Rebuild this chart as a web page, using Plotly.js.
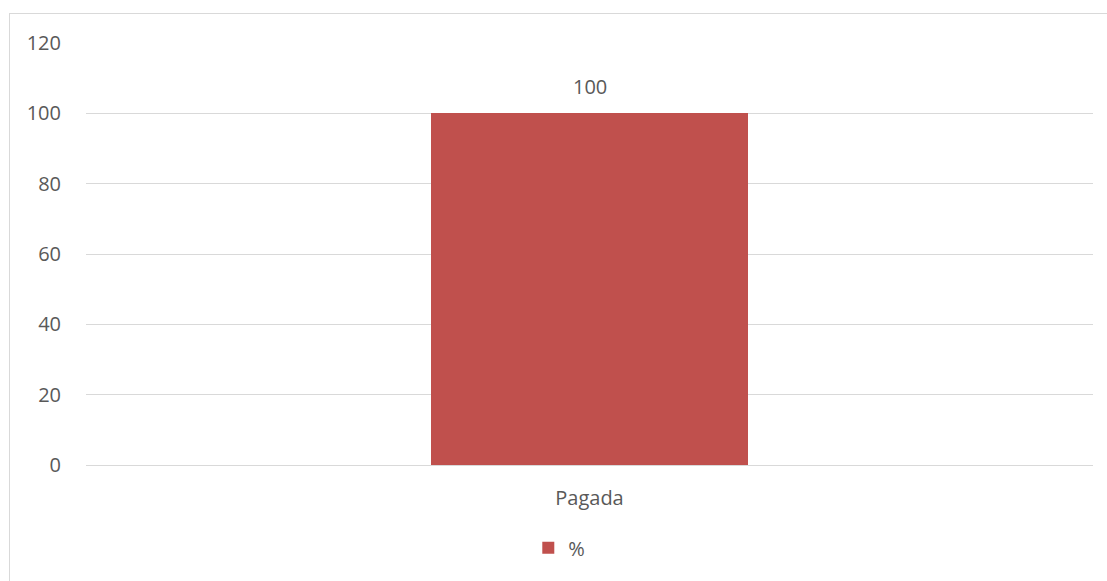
<!DOCTYPE html>
<html>
<head>
<meta charset="utf-8">
<script src="https://cdn.plot.ly/plotly-3.0.1.min.js"></script>
<style>
  html, body { margin: 0; padding: 0; background: #ffffff; overflow: hidden; }
  #chart { position: absolute; left: 0; top: 0; width: 1107px; height: 581px; }
  #frame { position: absolute; left: 9px; top: 13px; width: 1120px; height: 600px;
           border: 1px solid #D9D9D9; pointer-events: none; }
</style>
</head>
<body>
<div id="chart"></div>
<div id="frame"></div>
<script>
// Share of records by status
const categories = ['Pagada'];
const percentValues = [100];
const seriesName = '%';
const yTicks = [0, 20, 40, 60, 80, 100, 120];

const textColor = '#595959';
const fontFamily = '"Open Sans", "Liberation Sans", sans-serif';

const trace = {
  type: 'bar',
  x: categories,
  y: percentValues,
  name: seriesName,
  marker: { color: '#C0504D' },
  width: 0.314,
  showlegend: true,
  hoverinfo: 'none'
};

// value labels placed above each bar
const valueLabels = categories.map((c, i) => ({
  x: c,
  y: percentValues[i],
  xref: 'x',
  yref: 'y',
  text: String(percentValues[i]),
  showarrow: false,
  yanchor: 'bottom',
  yshift: 11,
  font: { family: fontFamily, size: 20, color: textColor }
}));

const layout = {
  width: 1107,
  height: 581,
  margin: { l: 86, r: 14, t: 42.5, b: 116 },
  paper_bgcolor: '#ffffff',
  plot_bgcolor: '#ffffff',
  font: { family: fontFamily, size: 20, color: textColor },
  xaxis: {
    type: 'category',
    showgrid: false,
    showline: true,
    linecolor: '#D9D9D9',
    linewidth: 1,
    ticks: '',
    ticklabelstandoff: 15,
    tickfont: { family: fontFamily, size: 20, color: textColor },
    zeroline: false
  },
  yaxis: {
    range: [0, 120],
    tickvals: yTicks,
    ticktext: yTicks.map(String),
    showgrid: true,
    gridcolor: '#D9D9D9',
    gridwidth: 1,
    zeroline: false,
    showline: false,
    ticks: '',
    ticklabelstandoff: 24,
    tickfont: { family: fontFamily, size: 20, color: textColor }
  },
  annotations: valueLabels,
  showlegend: true,
  legend: {
    orientation: 'h',
    x: 0.47,
    xanchor: 'center',
    y: -0.15,
    yanchor: 'top',
    font: { family: fontFamily, size: 20, color: textColor },
    itemwidth: 30
  },
  bargap: 0
};

Plotly.newPlot('chart', [trace], layout, { staticPlot: true, displayModeBar: false });
</script>
</body>
</html>
